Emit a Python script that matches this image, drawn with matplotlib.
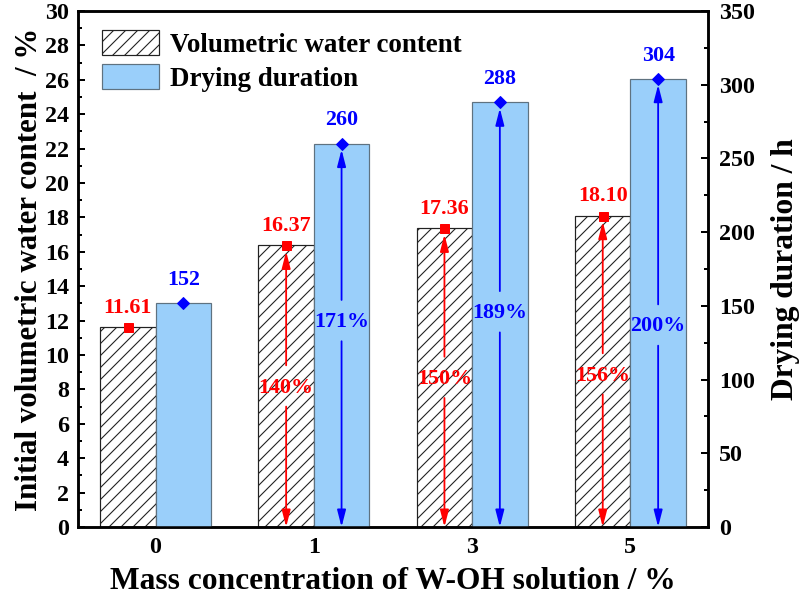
import numpy as np
import matplotlib
matplotlib.use("Agg")
from matplotlib import pyplot as plt
from matplotlib.ticker import MultipleLocator
from matplotlib.patches import Patch

# data
categories = ["0", "1", "3", "5"]
water_content = [11.61, 16.37, 17.36, 18.10]
drying_hours = [152, 260, 288, 304]
water_pct = ["", "140%", "150%", "156%"]
drying_pct = ["", "171%", "189%", "200%"]
water_pct_y = [0, 8.1, 8.6, 8.8]
drying_pct_y = [0, 139, 145, 136]

plt.rcParams['font.family'] = ['Liberation Serif', 'DejaVu Serif']
plt.rcParams['font.weight'] = 'bold'
plt.rcParams['hatch.linewidth'] = 1.1

# dpi 72 so that sizes in points equal pixels
fig = plt.figure(figsize=(800 / 72, 606 / 72), dpi=72)
ax = fig.add_axes([78 / 800, 79 / 606, 630 / 800, 516 / 606])
ax2 = ax.twinx()

x = np.arange(len(categories))
w = 0.35
blue = '#9ACFFA'

ax.bar(x - w / 2, water_content, w, color='white', edgecolor='#222222',
       hatch='//', linewidth=1.2, zorder=2)
ax2.bar(x + w / 2, drying_hours, w, color=blue, edgecolor='#5f7280',
        linewidth=1.2, zorder=2)

ax.set_xlim(-0.49, 3.49)
ax.set_ylim(0, 30)
ax2.set_ylim(0, 350)

# markers + value labels
ax.plot(x - w / 2, water_content, 's', color='red', ms=9, zorder=5, clip_on=False)
ax2.plot(x + w / 2, drying_hours, 'D', color='blue', ms=9, zorder=5, clip_on=False)
for i in range(len(x)):
    ax.text(x[i] - w / 2, water_content[i] + 0.55, f"{water_content[i]:.2f}",
            color='red', ha='center', va='bottom', fontsize=22, fontweight='bold')
    ax2.text(x[i] + w / 2, drying_hours[i] + 9, f"{drying_hours[i]}",
             color='blue', ha='center', va='bottom', fontsize=22, fontweight='bold')


def split_arrow(a, xc, top, ymid, gap_lo, gap_hi, col, label):
    style = '-|>,head_length=0.7,head_width=0.18'
    kw = dict(arrowstyle=style, color=col, lw=1.8, shrinkA=0, shrinkB=0,
              mutation_scale=20)
    a.annotate('', xy=(xc, top), xytext=(xc, ymid + gap_hi), arrowprops=kw, zorder=4)
    a.annotate('', xy=(xc, 0), xytext=(xc, ymid - gap_lo), arrowprops=kw, zorder=4)
    a.text(xc, ymid, label, color=col, ha='center', va='center',
           fontsize=22, fontweight='bold', zorder=6)


for i in range(1, len(x)):
    split_arrow(ax, x[i] - w / 2, water_content[i] - 0.35, water_pct_y[i],
                1.1, 1.3, 'red', water_pct[i])
    split_arrow(ax2, x[i] + w / 2, drying_hours[i] - 4, drying_pct_y[i],
                13, 15, 'blue', drying_pct[i])

# axes styling
ax.set_xticks(x)
ax.set_xticklabels(categories)
ax.tick_params(axis='x', length=0, pad=10, labelsize=24)
ax.yaxis.set_major_locator(MultipleLocator(2))
ax.yaxis.set_minor_locator(MultipleLocator(1))
ax.tick_params(axis='y', which='major', direction='in', length=7, width=2,
               labelsize=24, pad=9)
ax.tick_params(axis='y', which='minor', direction='in', length=4, width=2)
ax2.yaxis.set_major_locator(MultipleLocator(50))
ax2.yaxis.set_minor_locator(MultipleLocator(25))
ax2.tick_params(axis='y', which='major', direction='in', length=7, width=2,
                labelsize=24, pad=11)
ax2.tick_params(axis='y', which='minor', direction='in', length=4, width=2)
for a in (ax, ax2):
    for s in a.spines.values():
        s.set_linewidth(2.5)

ax.set_xlabel("Mass concentration of W-OH solution / %", fontsize=31.5,
              fontweight='bold', labelpad=9)
ax.set_ylabel("Initial volumetric water content  / %", fontsize=31,
              fontweight='bold', labelpad=1)
ax2.set_ylabel("Drying duration / h", fontsize=31.5, fontweight='bold', labelpad=16)

handles = [Patch(facecolor='white', edgecolor='#222222', hatch='//', lw=1.2),
           Patch(facecolor=blue, edgecolor='#5f7280', lw=1.2)]
ax.legend(handles, ["Volumetric water content", "Drying duration"],
          loc='upper left', bbox_to_anchor=(0.038, 0.963), frameon=False,
          fontsize=27, handlelength=2.1, handleheight=1.05, handletextpad=0.42,
          labelspacing=0.22, borderaxespad=0.0, borderpad=0.0)

fig.savefig("out.png", dpi=72)
